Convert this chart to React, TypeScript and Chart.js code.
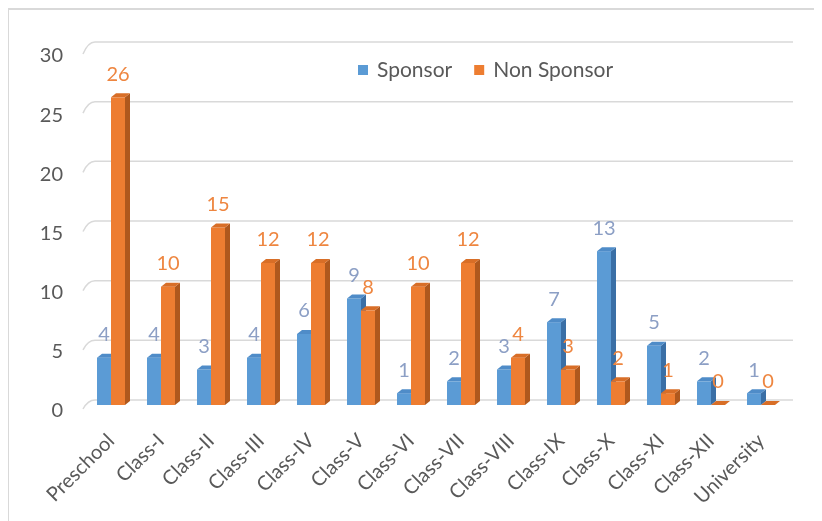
import React, { useEffect, useRef } from 'react';
import { Chart, registerables } from 'chart.js';

Chart.register(...registerables);

// ---- Data ----
const categories = [
  'Preschool', 'Class-I', 'Class-II', 'Class-III', 'Class-IV', 'Class-V', 'Class-VI',
  'Class-VII', 'Class-VIII', 'Class-IX', 'Class-X', 'Class-XI', 'Class-XII', 'University',
];
const sponsorValues = [4, 4, 3, 4, 6, 9, 1, 2, 3, 7, 13, 5, 2, 1];
const nonSponsorValues = [26, 10, 15, 12, 12, 8, 10, 12, 4, 3, 2, 1, 0, 0];
const seriesNames = ['Sponsor', 'Non Sponsor'];
const yMin = 0;
const yMax = 30;
const yStep = 5;

// ---- Styles ----
const FONT = 'Lato, "Open Sans", sans-serif';
const palette = [
  { front: '#5B9BD5', side: '#3A6FA6', top: '#4F8CC8', label: '#8C9FC5' },
  { front: '#ED7D31', side: '#AF581D', top: '#D86E27', label: '#EE8640' },
];
const DX = 5;
const DY = 4;

const bar3dPlugin = {
  id: 'bar3d',
  beforeDatasetsDraw(chart: any) {
    const { ctx, chartArea, scales } = chart;
    const ys = scales.y;
    ctx.save();
    ctx.strokeStyle = '#D9D9D9';
    ctx.lineWidth = 1.5;
    for (let v = yMin; v <= yMax; v += yStep) {
      const yf = ys.getPixelForValue(v);
      const yb = yf - 5 - 3 * (v / yMax);
      ctx.beginPath();
      ctx.moveTo(chartArea.left - 3, yf + 4);
      ctx.quadraticCurveTo(chartArea.left + 2, yb, chartArea.left + 9, yb);
      ctx.lineTo(chartArea.right + 7, yb);
      ctx.stroke();
    }
    ctx.restore();
  },
  afterDatasetsDraw(chart: any) {
    const { ctx } = chart;
    const n = chart.data.labels.length;
    ctx.save();
    for (let i = 0; i < n; i++) {
      chart.data.datasets.forEach((_ds: any, d: number) => {
        const el = chart.getDatasetMeta(d).data[i];
        const { x, y, base, width } = el.getProps(['x', 'y', 'base', 'width'], true);
        const l = x - width / 2;
        const r = x + width / 2;
        const c = palette[d];
        ctx.fillStyle = c.front;
        ctx.fillRect(l, y, width, base - y);
        ctx.fillStyle = c.side;
        ctx.beginPath();
        ctx.moveTo(r, y);
        ctx.lineTo(r + DX, y - DY);
        ctx.lineTo(r + DX, base - DY);
        ctx.lineTo(r, base);
        ctx.closePath();
        ctx.fill();
        ctx.fillStyle = c.top;
        ctx.beginPath();
        ctx.moveTo(l, y);
        ctx.lineTo(l + DX, y - DY);
        ctx.lineTo(r + DX, y - DY);
        ctx.lineTo(r, y);
        ctx.closePath();
        ctx.fill();
      });
    }
    // data labels
    ctx.font = `20px ${FONT}`;
    ctx.textAlign = 'center';
    ctx.textBaseline = 'middle';
    for (let i = 0; i < n; i++) {
      chart.data.datasets.forEach((ds: any, d: number) => {
        const el = chart.getDatasetMeta(d).data[i];
        const { x, y } = el.getProps(['x', 'y'], true);
        ctx.fillStyle = palette[d].label;
        ctx.fillText(String(ds.data[i]), x, y - 23);
      });
    }
    ctx.restore();
  },
  afterDraw(chart: any) {
    const { ctx } = chart;
    ctx.save();
    ctx.font = `21px ${FONT}`;
    ctx.textBaseline = 'middle';
    ctx.textAlign = 'left';
    let x = 349;
    const yc = 60;
    chart.data.datasets.forEach((ds: any, d: number) => {
      ctx.fillStyle = palette[d].front;
      ctx.fillRect(x, yc - 5, 10, 10);
      ctx.fillStyle = '#595959';
      ctx.fillText(ds.label, x + 19, yc);
      x += 19 + ctx.measureText(ds.label).width + 22;
    });
    ctx.restore();
  },
};

export default function App() {
  const ref = useRef<HTMLCanvasElement>(null);
  useEffect(() => {
    if (!ref.current) return;
    const chart = new Chart(ref.current, {
      type: 'bar',
      data: {
        labels: categories,
        datasets: [
          {
            label: seriesNames[0],
            data: sponsorValues,
            backgroundColor: 'rgba(0,0,0,0)',
            borderWidth: 0,
            categoryPercentage: 0.56,
            barPercentage: 1,
          },
          {
            label: seriesNames[1],
            data: nonSponsorValues,
            backgroundColor: 'rgba(0,0,0,0)',
            borderWidth: 0,
            categoryPercentage: 0.56,
            barPercentage: 1,
          },
        ],
      },
      options: {
        animation: false,
        responsive: true,
        maintainAspectRatio: false,
        layout: { padding: { top: 40, right: 36, left: 0, bottom: 0 } },
        plugins: {
          legend: { display: false },
          tooltip: { enabled: false },
          title: { display: false },
        },
        scales: {
          x: {
            grid: { display: false, drawTicks: false },
            border: { display: false },
            ticks: {
              color: '#595959',
              font: { family: FONT, size: 20 },
              minRotation: 45,
              maxRotation: 45,
              autoSkip: false,
              padding: 24,
            },
            afterFit: (s: any) => {
              s.height = 116;
            },
          },
          y: {
            min: yMin,
            max: yMax,
            grid: { display: false, drawTicks: false },
            border: { display: false },
            ticks: {
              stepSize: yStep,
              color: '#595959',
              font: { family: FONT, size: 20 },
              padding: 23,
              labelOffset: 6,
            },
            afterFit: (s: any) => {
              s.width = 77;
            },
          },
        },
      },
      plugins: [bar3dPlugin],
    });
    return () => chart.destroy();
  }, []);

  return (
    <div
      style={{
        position: 'relative',
        marginLeft: -1,
        borderLeft: '2px solid #D9D9D9',
        borderTop: '2px solid #D9D9D9',
        width: 813,
        height: 511,
      }}
    >
      <canvas ref={ref} />
    </div>
  );
}
